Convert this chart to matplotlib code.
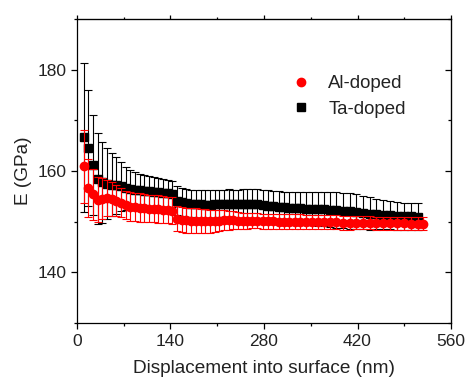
import matplotlib
matplotlib.use("Agg")
import matplotlib.pyplot as plt
from matplotlib.ticker import MultipleLocator

plt.rcParams['font.family'] = ['Liberation Sans', 'DejaVu Sans']

# depth (nm)
depth = [10, 17, 24, 31, 38, 45, 52, 59, 66, 73, 80, 87, 94, 101, 108, 115,
         122, 129, 136, 143, 150, 157, 164, 171, 178, 185, 192, 199, 206, 213,
         220, 227, 234, 241, 248, 255, 262, 270, 278, 286, 294, 302, 310, 318,
         326, 334, 343, 352, 361, 370, 379, 388, 398, 408, 418, 428, 438, 448,
         458, 468, 479, 490, 500, 510, 518]

# Ta-doped modulus (GPa) and std
E_ta = [166.7, 164.6, 161.2, 158.5, 157.8, 157.5, 157.3, 157.2, 157.0, 156.6,
        156.4, 156.3, 156.2, 156.1, 156.0, 155.9, 155.8, 155.7, 155.6, 155.5,
        154.2, 153.9, 153.7, 153.6, 153.5, 153.5, 153.4, 153.4, 153.5, 153.6,
        153.6, 153.6, 153.5, 153.5, 153.6, 153.6, 153.6, 153.5, 153.4, 153.2,
        153.1, 153.0, 152.9, 152.8, 152.7, 152.7, 152.6, 152.6, 152.5, 152.5,
        152.4, 152.3, 152.2, 152.1, 152.0, 151.8, 151.6, 151.5, 151.4, 151.3,
        151.2, 151.1, 151.1, 151.0]
err_ta = [14.7, 11.5, 9.8, 9.0, 8.0, 7.0, 6.2, 5.6, 4.8, 4.3,
          3.8, 3.5, 3.3, 3.2, 3.0, 3.0, 2.9, 2.8, 2.7, 2.6,
          2.8, 2.8, 2.7, 2.7, 2.7, 2.8, 2.8, 2.8, 2.7, 2.7,
          2.7, 2.8, 2.8, 2.8, 2.8, 2.9, 2.9, 2.9, 2.9, 3.0,
          3.0, 3.0, 3.0, 3.1, 3.1, 3.2, 3.2, 3.3, 3.3, 3.4,
          3.4, 3.5, 3.5, 3.5, 3.5, 3.3, 3.2, 3.0, 2.9, 2.8,
          2.8, 2.7, 2.7, 2.7]

# Al-doped modulus (GPa) and std
E_al = [161.0, 156.7, 155.4, 154.4, 154.6, 154.7, 154.5, 154.2, 153.8, 153.3,
        153.0, 152.9, 152.8, 152.7, 152.6, 152.6, 152.5, 152.4, 152.3, 152.2,
        150.6, 150.4, 150.3, 150.2, 150.2, 150.1, 150.1, 150.1, 150.2, 150.2,
        150.3, 150.3, 150.3, 150.2, 150.2, 150.2, 150.2, 150.2, 150.1, 150.1,
        150.1, 150.0, 150.0, 150.0, 150.0, 150.0, 149.9, 149.9, 149.9, 149.9,
        149.9, 149.9, 149.8, 149.8, 149.8, 149.8, 149.8, 149.7, 149.7, 149.7,
        149.7, 149.7, 149.6, 149.6, 149.6]
err_al = [7.2, 5.7, 5.0, 4.5, 4.0, 3.6, 3.3, 3.0, 2.9, 2.8,
          2.8, 2.8, 2.8, 2.7, 2.7, 2.7, 2.7, 2.6, 2.6, 2.6,
          2.5, 2.5, 2.5, 2.5, 2.5, 2.4, 2.4, 2.3, 2.2, 2.1,
          2.0, 1.9, 1.8, 1.7, 1.6, 1.6, 1.5, 1.5, 1.5, 1.5,
          1.5, 1.5, 1.5, 1.5, 1.5, 1.5, 1.4, 1.4, 1.4, 1.4,
          1.4, 1.4, 1.4, 1.4, 1.3, 1.3, 1.3, 1.3, 1.3, 1.3,
          1.3, 1.3, 1.3, 1.3, 1.3]

fig = plt.figure(figsize=(4.66, 3.82), dpi=100)
ax = fig.add_axes([0.165, 0.154, 0.803, 0.796])

ax.errorbar(depth[:len(E_ta)], E_ta, yerr=err_ta, fmt='s', color='black',
            markersize=5.2, elinewidth=0.8, capsize=2.8, capthick=0.8,
            label='Ta-doped', zorder=2)
ax.errorbar(depth, E_al, yerr=err_al, fmt='o', color='red',
            markersize=6, elinewidth=0.8, capsize=2.8, capthick=0.8,
            label='Al-doped', zorder=3)

ax.set_xlim(0, 560)
ax.set_ylim(130, 190)
ax.xaxis.set_major_locator(MultipleLocator(140))
ax.xaxis.set_minor_locator(MultipleLocator(70))
ax.yaxis.set_major_locator(MultipleLocator(20))
ax.yaxis.set_minor_locator(MultipleLocator(10))
ax.tick_params(which='both', direction='out', labelsize=12.5, width=0.9,
               labelcolor='#222222')
ax.tick_params(which='major', length=4)
ax.tick_params(which='minor', length=2.5)
for s in ax.spines.values():
    s.set_linewidth(0.9)

# mirrored ticks: top outward (short), right inward
top = ax.secondary_xaxis('top')
top.xaxis.set_major_locator(MultipleLocator(140))
top.xaxis.set_minor_locator(MultipleLocator(70))
top.tick_params(which='both', direction='out', labeltop=False, width=0.9)
top.tick_params(which='major', length=3)
top.tick_params(which='minor', length=1.5)
right = ax.secondary_yaxis('right')
right.yaxis.set_major_locator(MultipleLocator(20))
right.yaxis.set_minor_locator(MultipleLocator(10))
right.tick_params(which='both', direction='in', labelright=False, width=0.9)
right.tick_params(which='major', length=4)
right.tick_params(which='minor', length=2.5)

ax.set_xlabel('Displacement into surface (nm)', fontsize=13.7, labelpad=8,
              color='#222222')
ax.set_ylabel('E (GPa)', fontsize=13.7, labelpad=4, color='#222222')

h, l = ax.get_legend_handles_labels()
h = [hh[0] for hh in h]
ax.legend(h[::-1], l[::-1], loc='upper left', bbox_to_anchor=(0.525, 0.87),
          frameon=False, fontsize=13.4, handletextpad=0.85, labelspacing=0.45,
          handlelength=1.2, labelcolor='#222222')

fig.savefig('out.png', dpi=100)
